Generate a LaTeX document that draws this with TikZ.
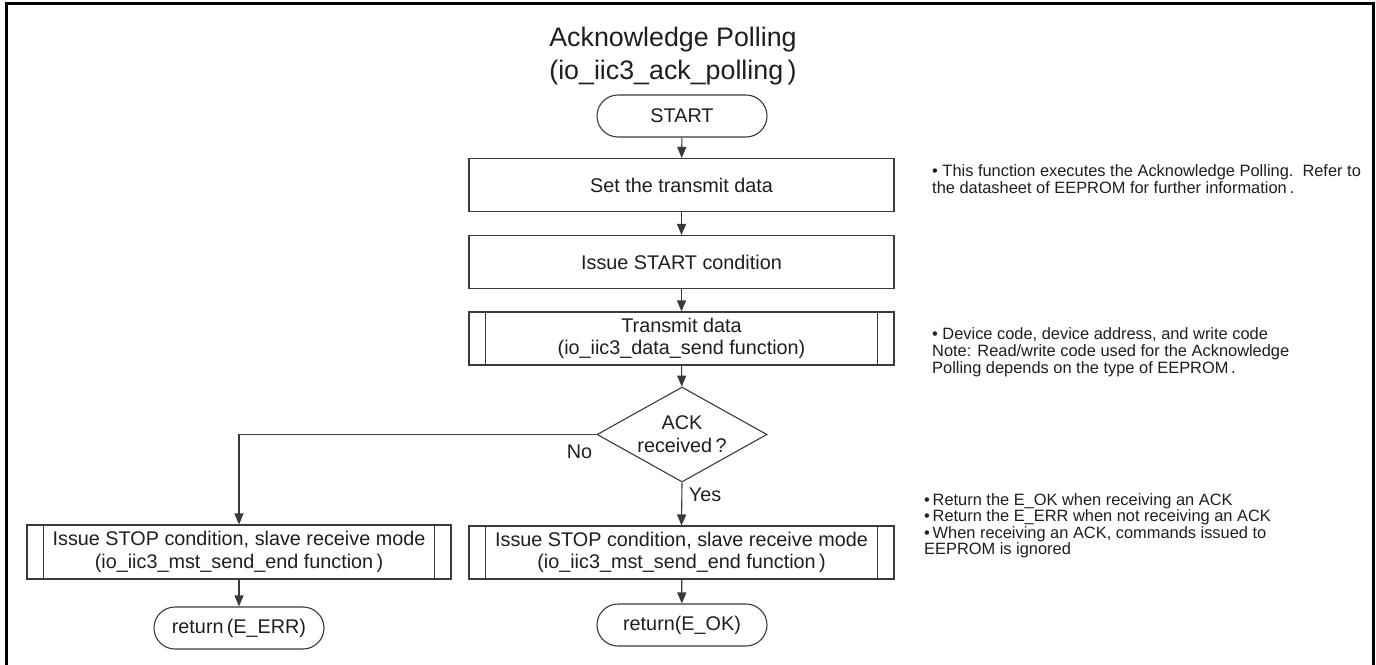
\documentclass[tikz,border=0pt]{standalone}
\usepackage{fontspec}
\setmainfont{Liberation Sans}
\usetikzlibrary{arrows.meta,shapes.geometric,shapes.misc}

\definecolor{ink}{HTML}{1E1E1E}
\definecolor{edge}{HTML}{3A3A3A}
\newcommand\ftitle{\fontsize{26.8}{33}\selectfont}
\newcommand\fbody{\fontsize{19.8}{22.7}\selectfont}
\newcommand\fnote{\fontsize{16.4}{17.5}\selectfont}

\begin{document}
\begin{tikzpicture}[x=1pt,y=-1pt,
  every node/.style={text=ink},
  procbox/.style={draw=edge, line width=1.1pt, rectangle, minimum width=425pt,
    minimum height=53pt, inner sep=0pt, font=\fbody, align=center},
  termbox/.style={draw=edge, line width=1.1pt, rounded rectangle, minimum width=170pt,
    minimum height=42pt, inner sep=0pt, font=\fbody},
  decbox/.style={draw=edge, line width=1.1pt, diamond, shape aspect=1.79,
    minimum width=170pt, minimum height=95pt, inner sep=0pt, font=\fbody, align=center},
  notetext/.style={anchor=north west, inner sep=0pt, align=left, font=\fnote},
  flow/.style={draw=edge, line width=1.1pt, -{Triangle[width=9pt,length=11pt]}},
  sidebar/.style={draw=edge, line width=1.1pt},
  branch/.style={font=\fbody, inner sep=0pt}
]
\useasboundingbox (0,0) rectangle (1376,664);
\clip (0,0) rectangle (1376,664);

% outer frame (bottom edge runs past the page)
\draw[line width=3pt, black] (6.5,3.5) rectangle (1373,668);

% title
\node[font=\ftitle, align=center, anchor=north, inner sep=0pt] (title) at (673,27)
  {Acknowledge Polling\\(io\_iic3\_ack\_polling\,)};

% main column
\node[termbox] (start) at (682,116) {START};
\node[procbox] (set) at (681.5,185) {Set the transmit data};
\node[procbox] (issue) at (681.5,262) {Issue START condition};
\node[procbox] (send) at (681.5,338.5) {Transmit data\\(io\_iic3\_data\_send function)};
\node[decbox] (ack) at (682,434.5) {ACK\\received\,?};
\node[procbox] (okend) at (681.5,552.5)
  {Issue STOP condition, slave receive mode\\(io\_iic3\_mst\_send\_end function\,)};
\node[termbox] (okret) at (682,625) {return(E\_OK)};

% error branch
\node[procbox, minimum width=424pt, minimum height=54pt] (errend) at (239,552)
  {Issue STOP condition, slave receive mode\\(io\_iic3\_mst\_send\_end function\,)};
\node[termbox] (errret) at (239,628) {return\,(E\_ERR)};

% predefined-process side bars
\foreach \n in {send,okend,errend}{
  \draw[sidebar] ([xshift=17pt]\n.north west) -- ([xshift=17pt]\n.south west);
  \draw[sidebar] ([xshift=-17pt]\n.north east) -- ([xshift=-17pt]\n.south east);
}

% connectors
\draw[flow] (start) -- (set);
\draw[flow] (set) -- (issue);
\draw[flow] (issue) -- (send);
\draw[flow] (send) -- (ack);
\draw[flow] (ack.south) -- (okend.north);
\draw[flow] (ack.west) -| (errend.north);
\draw[flow] (okend) -- (okret);
\draw[flow] (errend) -- (errret);

% branch labels
\node[branch] (yes) at (705,495) {Yes};
\node[branch] (no) at (579.5,452) {No};

% notes
\node[notetext] (note1) at (932,164)
  {\textbullet\ This function executes the Acknowledge Polling.\ \ Refer to\\
   the datasheet of EEPROM for further information\,.};
\node[notetext, font=\fontsize{16.4}{17}\selectfont] (note2) at (932,327)
  {\textbullet\ Device code, device address, and write code\\
   Note: Read/write code used for the Acknowledge\\
   Polling depends on the type of EEPROM\,.};
\node[notetext, font=\fontsize{16.4}{16.5}\selectfont] (note3) at (924,493)
  {\textbullet\,Return the E\_OK when receiving an ACK\\
   \textbullet\,Return the E\_ERR when not receiving an ACK\\
   \textbullet\,When receiving an ACK, commands issued to\\
   EEPROM is ignored};
\end{tikzpicture}
\end{document}
